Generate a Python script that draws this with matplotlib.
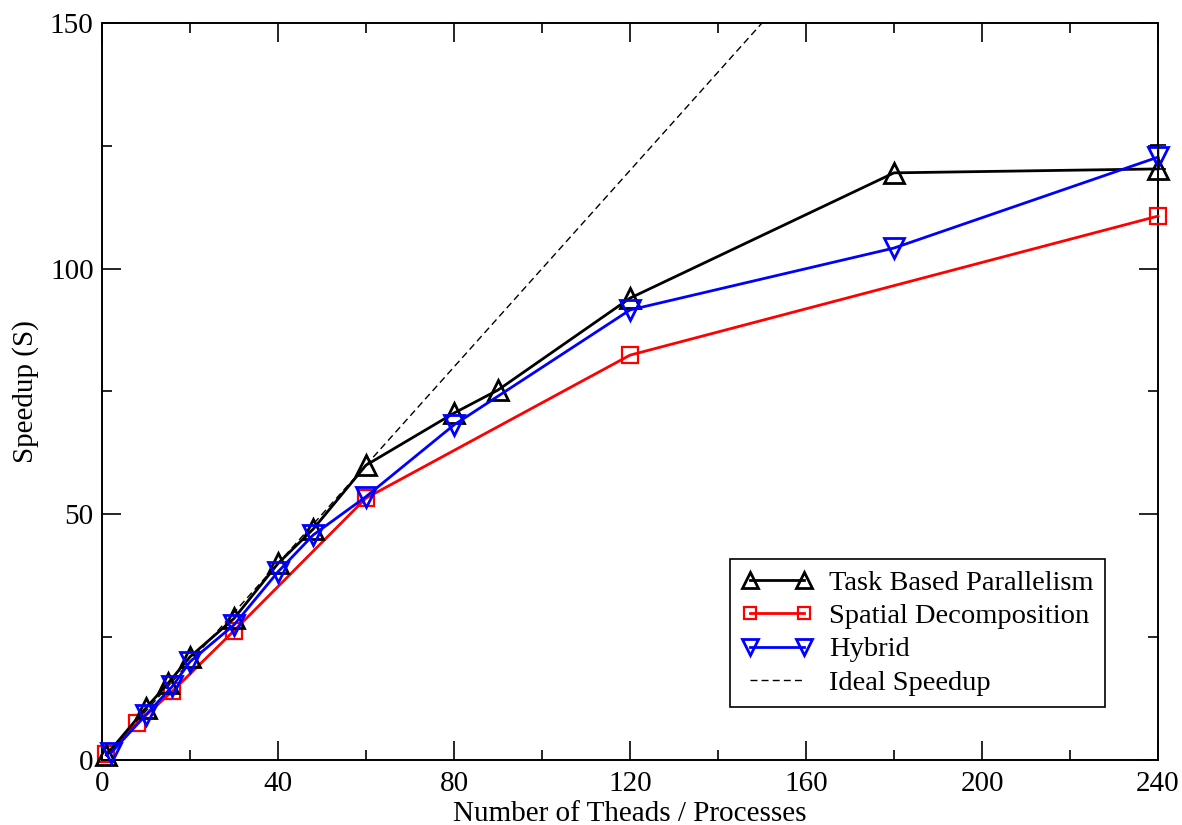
import matplotlib
matplotlib.use("Agg")
import matplotlib.pyplot as plt
from matplotlib.ticker import MultipleLocator

plt.rcParams["font.family"] = ["Liberation Serif", "DejaVu Serif"]

# Speedup data
task_x = [1, 10, 15, 20, 30, 40, 48, 60, 80, 90, 120, 180, 240]
task_y = [1.0, 10.6, 15.6, 21.0, 28.8, 40.0, 47.0, 60.0, 70.6, 75.3, 94.0, 119.5, 120.3]

spatial_x = [1, 8, 16, 30, 60, 120, 240]
spatial_y = [1.3, 7.5, 14.0, 26.3, 53.3, 82.4, 110.7]

hybrid_x = [2, 10, 16, 20, 30, 40, 48, 60, 80, 120, 180, 240]
hybrid_y = [1.4, 9.2, 15.0, 20.0, 27.5, 38.3, 45.8, 53.6, 68.2, 91.6, 104.2, 122.7]
# only the last hybrid point shows a visible error bar
hybrid_err_x = [240]
hybrid_err_y = [122.7]
hybrid_err = [2.5]

ideal_x = [1, 240]
ideal_y = [1, 240]

DPI = 100
fig = plt.figure(figsize=(1182 / DPI, 825 / DPI), dpi=DPI)
ax = fig.add_axes([102 / 1182, 1 - 760 / 825, (1158 - 102) / 1182, (760 - 23) / 825])

ax.plot(task_x, task_y, color="black", lw=2, marker="^", ms=14, mfc="none",
        mew=2, label="Task Based Parallelism", zorder=4, clip_on=False)
ax.plot(spatial_x, spatial_y, color="red", lw=2, marker="s", ms=11, mfc="none",
        mew=1.6, label="Spatial Decomposition", zorder=3, clip_on=False)
ax.plot(hybrid_x, hybrid_y, color="blue", lw=2, marker="v", ms=14, mfc="none",
        mew=2, label="Hybrid", zorder=5, clip_on=False)
ax.errorbar(hybrid_err_x, hybrid_err_y, yerr=hybrid_err, fmt="none",
            ecolor="black", elinewidth=1, capsize=6, capthick=1.2, zorder=6,
            clip_on=False)
ax.plot(ideal_x, ideal_y, color="black", lw=1, ls=(0, (5, 3)),
        label="Ideal Speedup", zorder=2)

ax.set_xlim(0, 240)
ax.set_ylim(0, 150)
ax.xaxis.set_major_locator(MultipleLocator(40))
ax.xaxis.set_minor_locator(MultipleLocator(20))
ax.yaxis.set_major_locator(MultipleLocator(50))
ax.yaxis.set_minor_locator(MultipleLocator(25))
ax.tick_params(which="both", direction="in", top=True, right=True,
               labelsize=21, width=1.2)
ax.tick_params(axis="x", which="both", pad=8)
ax.tick_params(axis="y", which="both", pad=6)
ax.tick_params(which="major", length=14)
ax.tick_params(which="minor", length=7)
for sp in ax.spines.values():
    sp.set_linewidth(1.4)

ax.set_xlabel("Number of Theads / Processes", fontsize=21, labelpad=3)
ax.set_ylabel("Speedup (S)", fontsize=21, labelpad=8)

leg = ax.legend(loc="lower right", bbox_to_anchor=(0.950, 0.072), fontsize=20.5,
                numpoints=2, handlelength=2.5, markerscale=0.85,
                fancybox=False, edgecolor="black", framealpha=1,
                borderpad=0.4, labelspacing=0.25, handletextpad=0.6,
                borderaxespad=0)
leg.get_frame().set_linewidth(1.2)

fig.savefig("out.png", dpi=DPI)
